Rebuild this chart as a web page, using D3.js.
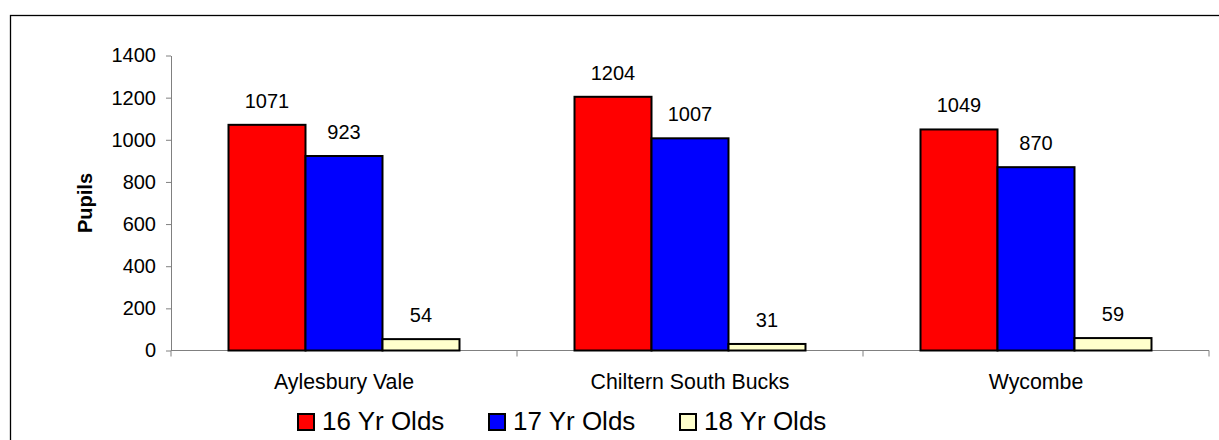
<!DOCTYPE html>
<html><head><meta charset="utf-8">
<script src="https://cdn.jsdelivr.net/npm/d3@7"></script>
<style>body{margin:0;background:#fff}svg{display:block}text{font-family:"Liberation Sans",Arial,sans-serif}</style>
</head><body>
<svg id="c" width="1219" height="440"></svg>
<script>
const categories = ["Aylesbury Vale", "Chiltern South Bucks", "Wycombe"];
const seriesNames = ["16 Yr Olds", "17 Yr Olds", "18 Yr Olds"];
const values16 = [1071, 1204, 1049];
const values17 = [923, 1007, 870];
const values18 = [54, 31, 59];
const colors = ["#FF0000", "#0000FF", "#FFFFCC"];
const yTicks = [0, 200, 400, 600, 800, 1000, 1200, 1400];

const series = [values16, values17, values18];
const svg = d3.select("#c");

svg.append("rect").attr("x", 10.5).attr("y", 15.5).attr("width", 1230).attr("height", 460)
  .attr("fill", "none").attr("stroke", "#000").attr("stroke-width", 1.3);

const pLeft = 171, pRight = 1209, pTop = 55.5, pBottom = 350.5;
const x0 = d3.scaleBand().domain(categories).range([pLeft, pRight]).paddingInner(0.3324).paddingOuter(0.1662);
const x1 = d3.scaleBand().domain(seriesNames).range([0, x0.bandwidth()]);
const y = d3.scaleLinear().domain([0, 1400]).range([pBottom, pTop]);

// y axis
const gy = svg.append("g").attr("transform", `translate(${pLeft},0)`)
  .call(d3.axisLeft(y).tickValues(yTicks).tickFormat(d3.format("d")).tickSize(5).tickPadding(10).tickSizeOuter(0));
gy.select(".domain").attr("stroke", "#808080");
gy.selectAll(".tick line").attr("stroke", "#808080");
gy.selectAll(".tick text").attr("font-size", 20).attr("fill", "#000").attr("font-family", '"Liberation Sans",Arial,sans-serif');

// x axis
const gx = svg.append("g").attr("transform", `translate(0,${pBottom})`);
gx.append("line").attr("x1", pLeft).attr("x2", pRight).attr("stroke", "#808080");
const bounds = d3.range(categories.length + 1).map(i => pLeft + i * (pRight - pLeft) / categories.length);
bounds.forEach(b => gx.append("line").attr("x1", b).attr("x2", b).attr("y1", 0).attr("y2", 6).attr("stroke", "#808080"));
gx.selectAll("text.cat").data(categories).enter().append("text")
  .attr("x", d => x0(d) + x0.bandwidth() / 2).attr("y", 38)
  .attr("text-anchor", "middle").attr("font-size", 21.3).text(d => d);

// bars
categories.forEach((c, ci) => {
  series.forEach((vals, si) => {
    const bx = x0(c) + x1(seriesNames[si]);
    svg.append("rect").attr("x", bx).attr("y", y(vals[ci]))
      .attr("width", x1.bandwidth()).attr("height", pBottom - y(vals[ci]))
      .attr("fill", colors[si]).attr("stroke", "#000").attr("stroke-width", 2);
    svg.append("text").attr("x", bx + x1.bandwidth() / 2).attr("y", y(vals[ci]) - 17)
      .attr("text-anchor", "middle").attr("font-size", 20).text(vals[ci]);
  });
});

// y title
svg.append("text").attr("transform", `translate(92,${(pTop + pBottom) / 2}) rotate(-90)`)
  .attr("text-anchor", "middle").attr("font-size", 20).attr("font-weight", "bold").text("Pupils");

// legend
const legX = [298, 489, 680];
seriesNames.forEach((s, i) => {
  svg.append("rect").attr("x", legX[i]).attr("y", 414).attr("width", 16).attr("height", 16)
    .attr("fill", colors[i]).attr("stroke", "#000").attr("stroke-width", 2);
  svg.append("text").attr("x", legX[i] + 24).attr("y", 430).attr("font-size", 26).text(s);
});
</script>
</body></html>
